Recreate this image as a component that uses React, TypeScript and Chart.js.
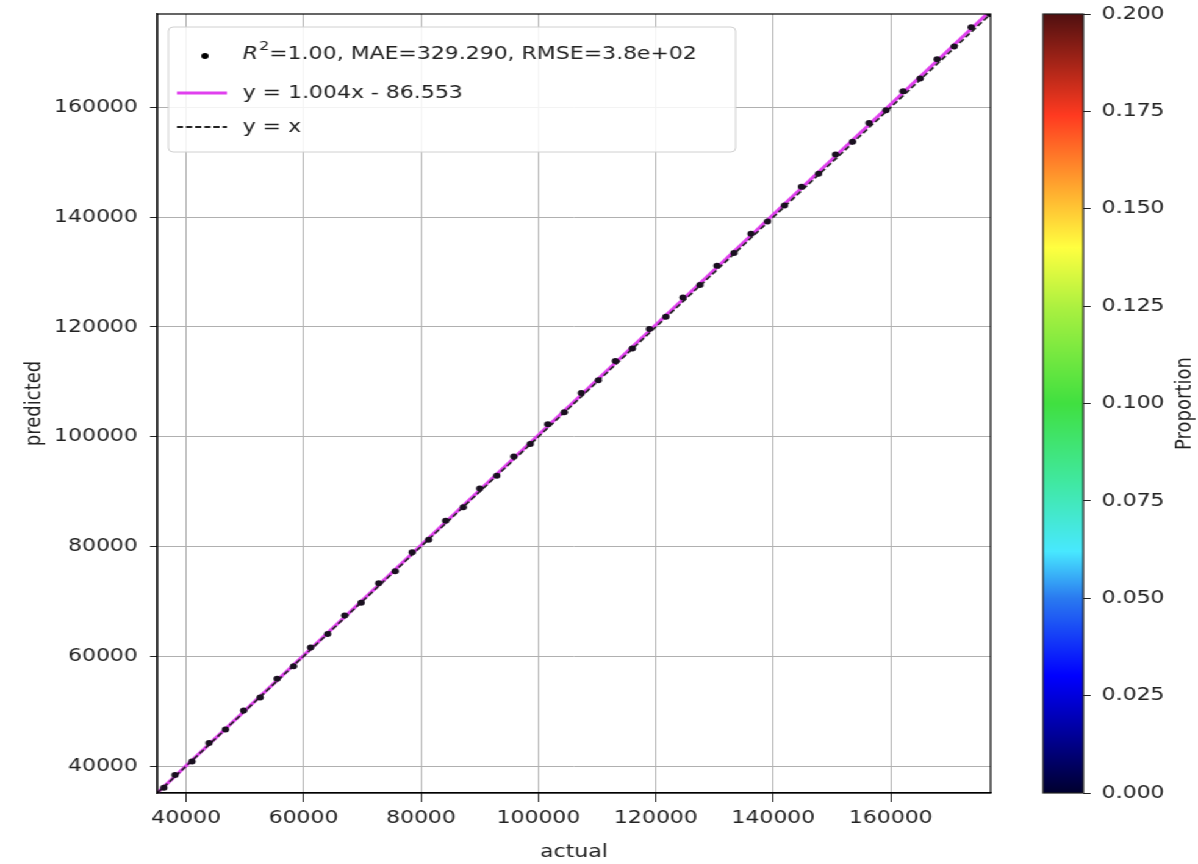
import React, { useEffect, useRef } from "react";
import { Chart, registerables } from "chart.js";

Chart.register(...registerables);

// ---- data ----
const actual = [
  36200, 38100, 41000, 43900, 46700, 49800, 52600, 55500, 58300, 61200,
  64100, 67000, 69800, 72800, 75600, 78500, 81300, 84200, 87200, 90000,
  92900, 95800, 98600, 101600, 104400, 107300, 110200, 113100, 116000, 118900,
  121700, 124600, 127500, 130400, 133300, 136200, 139000, 141900, 144800, 147700,
  150600, 153500, 156300, 159200, 162100, 165000, 167900, 170800, 173700, 176900,
];
const predicted = [
  36050, 38400, 40850, 44200, 46650, 50150, 52500, 55900, 58200, 61600,
  64050, 67450, 69750, 73300, 75500, 78950, 81250, 84700, 87150, 90550,
  92900, 96400, 98650, 102250, 104450, 107950, 110300, 113800, 116050, 119600,
  121850, 125350, 127650, 131150, 133450, 136950, 139200, 142100, 145550, 147900,
  151400, 153750, 157150, 159450, 162950, 165250, 168750, 171100, 174600, 177000,
];
const fitSlope = 1.004;
const fitIntercept = -86.553;
const axisMin = 35100;
const axisMax = 177000;
const axisTicks = [40000, 60000, 80000, 100000, 120000, 140000, 160000];
const colorbarTicks = [0, 0.025, 0.05, 0.075, 0.1, 0.125, 0.15, 0.175, 0.2];
const colorbarMin = 0;
const colorbarMax = 0.2;
const legendLabels = ["=1.00, MAE=329.290, RMSE=3.8e+02", "y = 1.004x - 86.553", "y = x"];
const jetStops: [number, string][] = [
  [0, "#00002e"],
  [0.08, "#0000a0"],
  [0.15, "#0000ff"],
  [0.25, "#2a7af0"],
  [0.31, "#48e8ff"],
  [0.4, "#40e8a0"],
  [0.5, "#40e040"],
  [0.62, "#a8f040"],
  [0.7, "#ffff40"],
  [0.77, "#ffb030"],
  [0.87, "#ff3a20"],
  [1, "#501010"],
];

const FONT = "'DejaVu Sans', sans-serif";
const FS = 18;
const TEXT = "#222222";
const MAGENTA = "#e040ee";
const CW = 982; // canvas-space width, stretched horizontally to 1198
const SX = 1198 / CW;

const framePlugin = {
  id: "frame",
  afterDatasetsDraw(chart: any) {
    const { ctx, chartArea: a } = chart;
    ctx.save();
    ctx.strokeStyle = "#000";
    ctx.lineWidth = 1.2;
    ctx.strokeRect(a.left, a.top, a.right - a.left, a.bottom - a.top);
    ctx.restore();
  },
};

const legendPlugin = {
  id: "mplLegend",
  afterDraw(chart: any) {
    const { ctx } = chart;
    const bx = 138, by = 27, bw = 465, bh = 125;
    ctx.save();
    ctx.beginPath();
    const r = 4;
    ctx.moveTo(bx + r, by);
    ctx.arcTo(bx + bw, by, bx + bw, by + bh, r);
    ctx.arcTo(bx + bw, by + bh, bx, by + bh, r);
    ctx.arcTo(bx, by + bh, bx, by, r);
    ctx.arcTo(bx, by, bx + bw, by, r);
    ctx.closePath();
    ctx.fillStyle = "rgba(255,255,255,0.85)";
    ctx.fill();
    ctx.strokeStyle = "#d0d0d0";
    ctx.lineWidth = 1;
    ctx.stroke();

    const tx = 199;
    const rows = [54, 93, 127];
    ctx.textBaseline = "middle";
    // row 1
    ctx.beginPath();
    ctx.arc(168, rows[0] + 2, 3, 0, Math.PI * 2);
    ctx.fillStyle = "#000";
    ctx.fill();
    ctx.fillStyle = TEXT;
    ctx.font = `italic ${FS}px ${FONT}`;
    ctx.fillText("R", tx, rows[0]);
    let x = tx + ctx.measureText("R").width;
    ctx.font = `${Math.round(FS * 0.7)}px ${FONT}`;
    ctx.fillText("2", x + 1, rows[0] - 7);
    x += ctx.measureText("2").width + 1;
    ctx.font = `${FS}px ${FONT}`;
    ctx.fillText(legendLabels[0], x, rows[0]);
    // row 2
    ctx.beginPath();
    ctx.moveTo(145, rows[1]);
    ctx.lineTo(186, rows[1]);
    ctx.strokeStyle = MAGENTA;
    ctx.lineWidth = 3;
    ctx.stroke();
    ctx.fillText(legendLabels[1], tx, rows[1]);
    // row 3
    ctx.beginPath();
    ctx.setLineDash([5, 2.5]);
    ctx.moveTo(145, rows[2]);
    ctx.lineTo(186, rows[2]);
    ctx.strokeStyle = "#222";
    ctx.lineWidth = 1.8;
    ctx.stroke();
    ctx.setLineDash([]);
    ctx.fillText(legendLabels[2], tx, rows[2]);
    ctx.restore();
  },
};

const gradientPlugin = {
  id: "cbGradient",
  beforeDatasetsDraw(chart: any) {
    const { ctx, chartArea: a } = chart;
    const g = ctx.createLinearGradient(0, a.bottom, 0, a.top);
    jetStops.forEach(([p, c]) => g.addColorStop(p, c));
    ctx.save();
    ctx.fillStyle = g;
    ctx.fillRect(a.left, a.top, a.right - a.left, a.bottom - a.top);
    ctx.strokeStyle = "#222";
    ctx.lineWidth = 1.2;
    ctx.strokeRect(a.left, a.top, a.right - a.left, a.bottom - a.top);
    ctx.restore();
  },
  afterDraw(chart: any) {
    const { ctx, chartArea: a } = chart;
    ctx.save();
    ctx.translate(151, (a.top + a.bottom) / 2);
    ctx.rotate(-Math.PI / 2);
    ctx.font = `${FS}px ${FONT}`;
    ctx.fillStyle = TEXT;
    ctx.textAlign = "center";
    ctx.textBaseline = "middle";
    ctx.fillText("Proportion", 0, 0);
    ctx.restore();
  },
};

const noPadV = (w: number) => (s: any) => {
  s.width = w;
  s.paddingTop = 0;
  s.paddingBottom = 0;
};

export default function App() {
  const mainRef = useRef<HTMLCanvasElement>(null);
  const cbRef = useRef<HTMLCanvasElement>(null);

  useEffect(() => {
    const points = actual.map((a, i) => ({ x: a, y: predicted[i] }));
    const lineX = [axisMin, axisMax];
    const fitData = lineX.map((v) => ({ x: v, y: fitSlope * v + fitIntercept }));
    const idData = lineX.map((v) => ({ x: v, y: v }));

    const tickFont = { family: FONT, size: FS };
    const main = new Chart(mainRef.current!, {
      type: "scatter",
      data: {
        datasets: [
          {
            type: "scatter",
            label: "points",
            data: points,
            pointRadius: 3,
            pointBackgroundColor: "#1a1020",
            pointBorderWidth: 0,
            order: 0,
          } as any,
          {
            type: "line",
            label: "fit",
            data: fitData,
            borderColor: MAGENTA,
            borderWidth: 3,
            pointRadius: 0,
            order: 2,
          },
          {
            type: "line",
            label: "identity",
            data: idData,
            borderColor: "#222",
            borderWidth: 1.6,
            borderDash: [5, 2.5],
            pointRadius: 0,
            order: 1,
          },
        ],
      },
      options: {
        animation: false,
        responsive: false,
        layout: { padding: { top: 14, right: 170, left: 0, bottom: 0 } },
        plugins: { legend: { display: false }, tooltip: { enabled: false } },
        scales: {
          x: {
            type: "linear",
            min: axisMin,
            max: axisMax,
            afterBuildTicks: (s: any) => {
              s.ticks = axisTicks.map((v) => ({ value: v }));
            },
            afterFit: (s: any) => {
              s.height = 71;
              s.paddingLeft = 0;
              s.paddingRight = 0;
            },
            ticks: { font: tickFont, color: TEXT, padding: 6, maxRotation: 0, callback: (v: any) => String(v) },
            grid: { color: "#b0b0b0", lineWidth: 1, tickColor: "#222", tickLength: 9 },
            border: { display: true, color: "#000", width: 1.2 },
            title: { display: true, text: "actual", font: tickFont, color: TEXT, padding: { top: 0, bottom: 1 } },
          },
          y: {
            type: "linear",
            min: axisMin,
            max: axisMax,
            afterBuildTicks: (s: any) => {
              s.ticks = axisTicks.map((v) => ({ value: v }));
            },
            afterFit: noPadV(129),
            ticks: { font: tickFont, color: TEXT, padding: 10, callback: (v: any) => String(v) },
            grid: { color: "#b0b0b0", lineWidth: 1, tickColor: "#222", tickLength: 6 },
            border: { display: true, color: "#000", width: 1.2 },
            title: { display: true, text: "predicted", font: tickFont, color: TEXT, padding: { top: 18, bottom: 0 } },
          },
        },
      },
      plugins: [framePlugin, legendPlugin],
    });

    const cb = new Chart(cbRef.current!, {
      type: "bar",
      data: { labels: [""], datasets: [{ data: [], label: "cb" }] },
      options: {
        animation: false,
        responsive: false,
        layout: { padding: { top: 14, left: 35, right: 0, bottom: 71 } },
        plugins: { legend: { display: false }, tooltip: { enabled: false } },
        scales: {
          x: { display: false },
          y: {
            position: "right",
            min: colorbarMin,
            max: colorbarMax,
            afterBuildTicks: (s: any) => {
              s.ticks = colorbarTicks.map((v) => ({ value: v }));
            },
            afterFit: noPadV(94),
            ticks: {
              font: tickFont,
              color: TEXT,
              padding: 9,
              callback: (v: any) => Number(v).toFixed(3),
            },
            grid: { drawOnChartArea: false, tickColor: "#222", tickLength: 6 },
            border: { display: false },
          },
        },
      },
      plugins: [gradientPlugin],
    });

    return () => {
      main.destroy();
      cb.destroy();
    };
  }, []);

  return (
    <div style={{ position: "absolute", left: 0, top: 0, width: 1198, height: 864, background: "#fff", overflow: "hidden" }}>
      <div
        style={{
          position: "absolute",
          left: 0,
          top: 0,
          width: CW,
          height: 864,
          transform: `scaleX(${SX})`,
          transformOrigin: "0 0",
        }}
      >
        <canvas ref={mainRef} width={CW} height={864} style={{ position: "absolute", left: 0, top: 0, width: CW, height: 864 }} />
        <canvas ref={cbRef} width={162} height={864} style={{ position: "absolute", left: 820, top: 0, width: 162, height: 864 }} />
      </div>
    </div>
  );
}
